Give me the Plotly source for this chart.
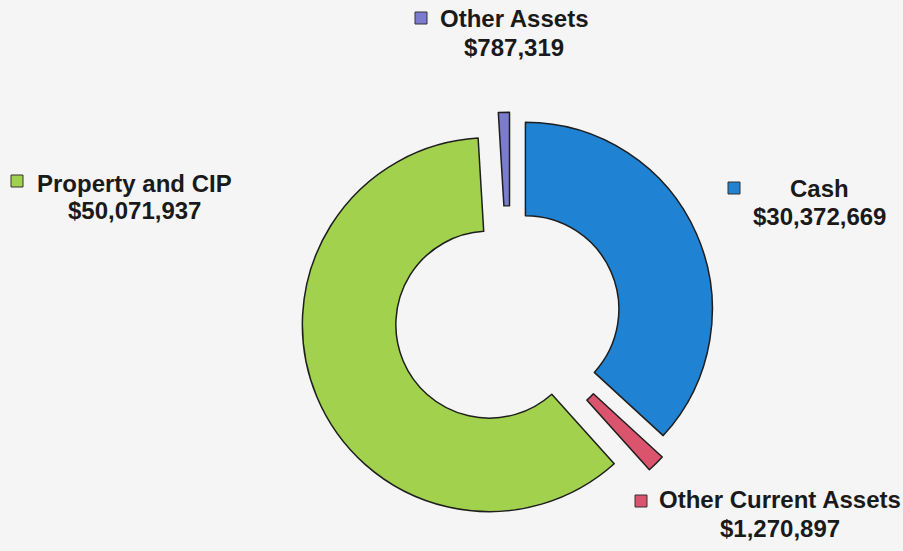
import plotly.graph_objects as go

# Data
categories = ['Cash', 'Other Current Assets', 'Property and CIP', 'Other Assets']
amounts = [30372669, 1270897, 50071937, 787319]
colors = ['#1f82d2', '#d9546c', '#a2d14e', '#7c7ccf']
pulls = [0.09, 0.11, 0.12, 0.09]

W, H = 903, 551
BG = '#f5f5f5'

# label centres in pixels: (x, y of line 1, y of line 2)
label_pos = {
    'Cash': (819, 188, 216),
    'Other Current Assets': (780, 499, 528),
    'Property and CIP': (134, 183, 210),
    'Other Assets': (514, 19, 47),
}
marker_pos = {
    'Cash': (734, 188),
    'Other Current Assets': (641, 501),
    'Property and CIP': (17, 181),
    'Other Assets': (421, 18),
}


def px_x(x):
    return x / W


def px_y(y):
    return 1 - y / H


fig = go.Figure(go.Pie(
    labels=categories,
    values=amounts,
    marker=dict(colors=colors, line=dict(color='#1e1e1e', width=1.5)),
    pull=pulls,
    hole=0.5,
    sort=False,
    direction='clockwise',
    rotation=0,
    textinfo='none',
    hoverinfo='label+value',
    domain=dict(x=[0.3329, 0.7967], y=[0.0465, 0.8065]),
))

font = dict(family='Liberation Sans, Arial, sans-serif', size=24, color='#1a1a1a')
annotations = []
shapes = []
for cat, amt, col in zip(categories, amounts, colors):
    lx, ly1, ly2 = label_pos[cat]
    for txt, ly in ((cat, ly1), (f'${amt:,}', ly2)):
        annotations.append(dict(
            x=px_x(lx), y=px_y(ly), xref='paper', yref='paper',
            xanchor='center', yanchor='middle', showarrow=False,
            text=f'<b>{txt}</b>', font=font,
        ))
    mx, my = marker_pos[cat]
    shapes.append(dict(
        type='rect', xref='paper', yref='paper',
        x0=px_x(mx - 6), x1=px_x(mx + 6), y0=px_y(my + 6), y1=px_y(my - 6),
        fillcolor=col, line=dict(color='#333333', width=1),
    ))

fig.update_layout(
    width=W,
    height=H,
    margin=dict(l=0, r=0, t=0, b=0),
    paper_bgcolor=BG,
    plot_bgcolor=BG,
    showlegend=False,
    annotations=annotations,
    shapes=shapes,
)

fig.write_html("out.html", config={'displayModeBar': False},
               post_script=f"document.body.style.margin='0';document.body.style.background='{BG}';")
